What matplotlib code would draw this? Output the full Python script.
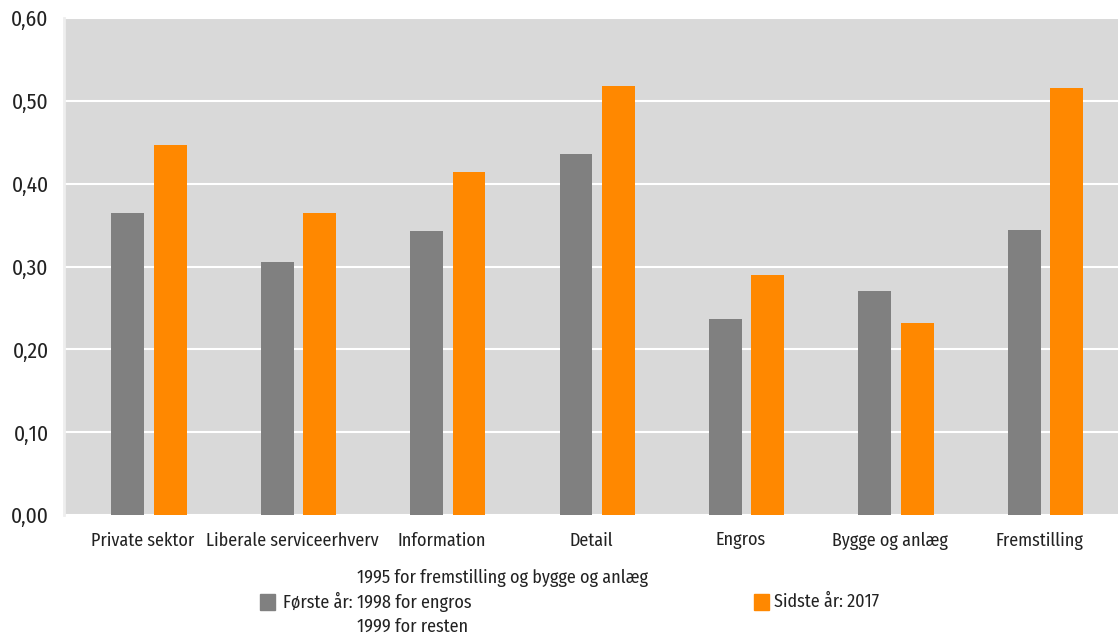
import numpy as np
import matplotlib
matplotlib.use("Agg")
from matplotlib import pyplot as plt
from matplotlib.patches import Rectangle

# data
categories = ["Private sektor", "Liberale serviceerhverv", "Information", "Detail",
              "Engros", "Bygge og anlæg", "Fremstilling"]
first_year = [0.365, 0.306, 0.343, 0.436, 0.237, 0.271, 0.344]
last_year = [0.447, 0.365, 0.414, 0.518, 0.290, 0.232, 0.516]
yticks = [0.0, 0.1, 0.2, 0.3, 0.4, 0.5, 0.6]
first_label = "Første år:"
first_lines = ["1995 for fremstilling og bygge og anlæg", "1998 for engros", "1999 for resten"]
last_label = "Sidste år: 2017"

grey = "#808080"
orange = "#ff8800"
txt = "#222222"
plt.rcParams["font.family"] = ["Fira Sans Condensed", "DejaVu Sans"]

W, H = 1118, 634
fig = plt.figure(figsize=(W / 100, H / 100), dpi=100)
ax = fig.add_axes([64 / W, (H - 515) / H, (W - 64) / W, (515 - 18) / H])
ax.set_facecolor("#d9d9d9")

x = np.arange(len(categories))
w = 0.22
ax.bar(x - 0.142, first_year, w, color=grey, zorder=3)
ax.bar(x + 0.142, last_year, w, color=orange, zorder=3)

ax.set_xlim(-0.569, 6.486)
ax.set_ylim(0, 0.6)
ax.set_yticks(yticks)
ax.set_yticklabels([f"{v:.2f}".replace(".", ",") for v in yticks], fontsize=15.5, color=txt)
ax.set_xticks(x - 0.04)
ax.set_xticklabels(categories, fontsize=13, color=txt)
ax.tick_params(axis="both", length=0)
ax.tick_params(axis="y", pad=11)
ax.tick_params(axis="x", pad=12)
ax.grid(axis="y", color="white", linewidth=1.5, zorder=1)
for s in ["top", "right", "bottom"]:
    ax.spines[s].set_visible(False)
ax.spines["left"].set_color("#eeeeee")
ax.spines["left"].set_linewidth(2)

# legend drawn by hand
def px(xp, yp):
    return xp / W, 1 - yp / H

fig.add_artist(Rectangle(px(260, 610), 15 / W, 16 / H, color=grey, transform=fig.transFigure))
fig.text(*px(283, 602), first_label, fontsize=13, va="center", color=txt)
for i, line in enumerate(first_lines):
    fig.text(*px(357, 578 + 24.5 * i), line, fontsize=13, va="center", color=txt)
fig.add_artist(Rectangle(px(754, 610), 15 / W, 16 / H, color=orange, transform=fig.transFigure))
fig.text(*px(774, 602), last_label, fontsize=13, va="center", color=txt)

fig.savefig("out.png", dpi=100)
